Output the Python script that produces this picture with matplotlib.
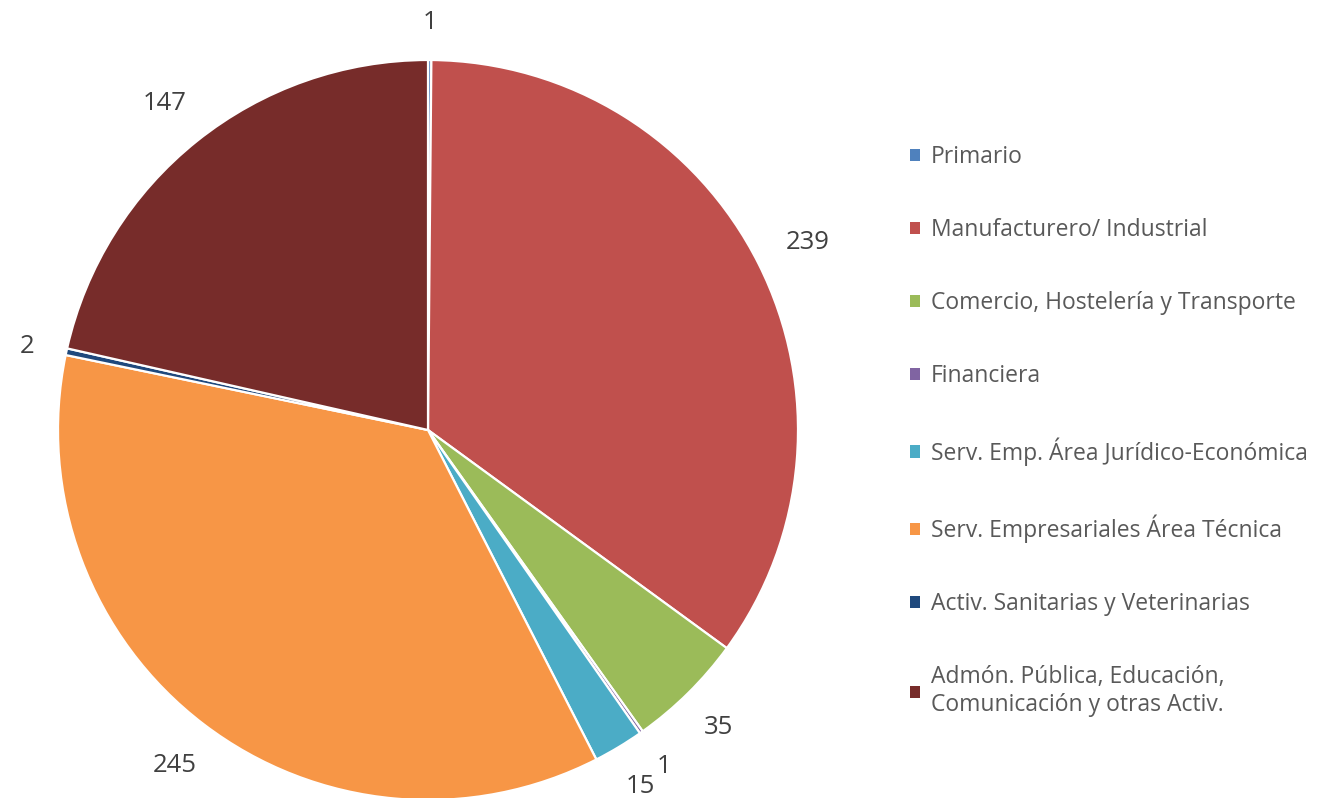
import matplotlib
matplotlib.use("Agg")
import matplotlib.pyplot as plt
import numpy as np
from matplotlib.patches import Patch

plt.rcParams["font.family"] = ["Open Sans", "DejaVu Sans"]

SECTORS = [
    "Primario",
    "Manufacturero/ Industrial",
    "Comercio, Hostelería y Transporte",
    "Financiera",
    "Serv. Emp. Área Jurídico-Económica",
    "Serv. Empresariales Área Técnica",
    "Activ. Sanitarias y Veterinarias",
    "Admón. Pública, Educación,\nComunicación y otras Activ.",
]
COUNTS = [1, 239, 35, 1, 15, 245, 2, 147]
COLORS = ["#4F81BD", "#C0504D", "#9BBB59", "#8064A2",
          "#4BACC6", "#F79646", "#1F497D", "#772C2A"]

W, H = 1317, 798
CX, CY, R = 428, H - 430, 370
LABEL_PT = 18.5


def main():
    fig = plt.figure(figsize=(W / 100, H / 100), dpi=100)
    ax = fig.add_axes([0, 0, 1, 1])

    wedges, _ = ax.pie(
        COUNTS, colors=COLORS, startangle=90, counterclock=False,
        center=(CX, CY), radius=R,
        wedgeprops=dict(edgecolor="white", linewidth=1.6),
    )
    ax.set_xlim(0, W)
    ax.set_ylim(0, H)
    ax.set_aspect("equal")
    ax.axis("off")

    # value labels outside each slice, pushed out by their own half-size
    px = LABEL_PT * 100 / 72
    for w, v in zip(wedges, COUNTS):
        ang = np.deg2rad((w.theta1 + w.theta2) / 2)
        c, s = np.cos(ang), np.sin(ang)
        half_w = 0.57 * px * len(str(v)) / 2
        half_h = 9
        gap = 31 if s > -0.5 else 27
        d = R + gap + abs(c) * half_w + abs(s) * half_h
        ax.text(CX + d * c, CY + d * s - 3, str(v),
                ha="center", va="center", fontsize=LABEL_PT, color="#404040")

    handles = [Patch(facecolor=c, edgecolor="none") for c in COLORS]
    fig.legend(handles, SECTORS, loc="upper left",
               bbox_to_anchor=(910 / W, 1 - 145 / H), frameon=False,
               fontsize=16.5, labelcolor="#595959",
               handlelength=0.45, handleheight=0.45, handletextpad=0.45,
               labelspacing=2.14, borderpad=0, borderaxespad=0)

    fig.savefig("out.png", dpi=100)


if __name__ == "__main__":
    main()
